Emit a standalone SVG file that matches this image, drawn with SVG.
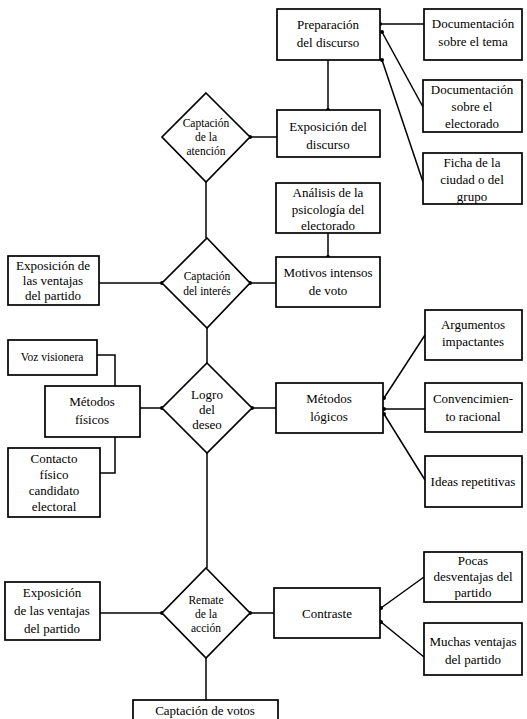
<svg xmlns="http://www.w3.org/2000/svg" width="527" height="719" viewBox="0 0 527 719" font-family="'Liberation Serif', 'DejaVu Serif', serif">
<defs>
<style>
.b{fill:#fff;stroke:#000;stroke-width:1.7}
.c{fill:none;stroke:#000;stroke-width:1.5}
text{font-family:'Liberation Serif','DejaVu Serif',serif;font-size:13px;fill:#000;text-anchor:middle}
.s{font-size:11.5px}
</style>
<marker id="dot" viewBox="0 0 6 6" refX="3" refY="3" markerWidth="4" markerHeight="4" markerUnits="userSpaceOnUse"><circle cx="3" cy="3" r="3" fill="#000"/></marker>
</defs>
<rect width="527" height="719" fill="#fff"/>
<g id="connectors">
<path class="c" d="M328 60V110" marker-end="url(#dot)"/>
<path class="c" d="M424 24H380" marker-end="url(#dot)"/>
<path class="c" d="M423 107L382 32" marker-end="url(#dot)"/>
<path class="c" d="M423 182L382 60" marker-end="url(#dot)"/>
<path class="c" d="M277 137H250" marker-end="url(#dot)"/>
<path class="c" d="M206 182V238"/>
<path class="c" d="M328 233V257" marker-end="url(#dot)"/>
<path class="c" d="M99 283H162" marker-end="url(#dot)"/>
<path class="c" d="M276 283H250" marker-end="url(#dot)"/>
<path class="c" d="M207 328V363"/>
<path class="c" d="M97 355H115V386"/>
<path class="c" d="M115 437V473H100"/>
<path class="c" d="M140 408H162" marker-end="url(#dot)"/>
<path class="c" d="M276 408H252" marker-end="url(#dot)"/>
<path class="c" d="M425 335L384 398" marker-end="url(#dot)"/>
<path class="c" d="M425 409H384" marker-end="url(#dot)"/>
<path class="c" d="M425 480L384 414" marker-end="url(#dot)"/>
<path class="c" d="M207 453V568"/>
<path class="c" d="M100 613H162" marker-end="url(#dot)"/>
<path class="c" d="M274 613H250" marker-end="url(#dot)"/>
<path class="c" d="M424 577L381 608" marker-end="url(#dot)"/>
<path class="c" d="M424 657L381 622" marker-end="url(#dot)"/>
<path class="c" d="M206 658V700"/>
</g>
<g id="preparacion"><rect class="b" x="277" y="9" width="103" height="51"/><text x="328" y="29">Preparación</text><text x="328" y="47">del discurso</text></g>
<g id="doc-tema"><rect class="b" x="424" y="9" width="98" height="51"/><text x="473" y="28">Documentación</text><text x="473" y="46">sobre el tema</text></g>
<g id="doc-electorado"><rect class="b" x="423" y="80" width="99" height="52"/><text x="472" y="94">Documentación</text><text x="472" y="111">sobre el</text><text x="472" y="128">electorado</text></g>
<g id="ficha"><rect class="b" x="423" y="153" width="99" height="51"/><text x="472" y="167">Ficha de la</text><text x="472" y="184">ciudad o del</text><text x="472" y="201">grupo</text></g>
<g id="exposicion-discurso"><rect class="b" x="277" y="110" width="103" height="47"/><text x="328" y="131">Exposición del</text><text x="328" y="149">discurso</text></g>
<g id="d-atencion"><polygon class="b" points="206,93 250,137 206,182 162,137"/><text class="s" x="206" y="127">Captación</text><text class="s" x="206" y="141">de la</text><text class="s" x="206" y="155">atención</text></g>
<g id="analisis"><rect class="b" x="276" y="183" width="104" height="50"/><text x="328" y="197">Análisis de la</text><text x="328" y="214">psicología del</text><text x="328" y="230">electorado</text></g>
<g id="motivos"><rect class="b" x="276" y="257" width="104" height="50"/><text x="328" y="277">Motivos intensos</text><text x="328" y="295">de voto</text></g>
<g id="exposicion-ventajas-1"><rect class="b" x="8" y="256" width="91" height="49"/><text x="53" y="270">Exposición de</text><text x="53" y="285">las ventajas</text><text x="53" y="300">del partido</text></g>
<g id="d-interes"><polygon class="b" points="207,238 250,283 207,328 162,283"/><text class="s" x="207" y="280">Captación</text><text class="s" x="207" y="295">del interés</text></g>
<g id="voz"><rect class="b" x="8" y="340" width="89" height="35"/><text class="s" x="52" y="361">Voz visionera</text></g>
<g id="metodos-fisicos"><rect class="b" x="45" y="386" width="95" height="51"/><text x="92" y="406">Métodos</text><text x="92" y="424">físicos</text></g>
<g id="contacto"><rect class="b" x="8" y="448" width="92" height="69"/><text x="54" y="463">Contacto</text><text x="54" y="479">físico</text><text x="54" y="495">candidato</text><text x="54" y="511">electoral</text></g>
<g id="d-deseo"><polygon class="b" points="207,363 252,408 207,453 162,408"/><text x="207" y="399">Logro</text><text x="207" y="414">del</text><text x="207" y="429">deseo</text></g>
<g id="metodos-logicos"><rect class="b" x="276" y="383" width="107" height="50"/><text x="329" y="403">Métodos</text><text x="329" y="421">lógicos</text></g>
<g id="argumentos"><rect class="b" x="425" y="310" width="97" height="50"/><text x="473" y="329">Argumentos</text><text x="473" y="346">impactantes</text></g>
<g id="convencimiento"><rect class="b" x="425" y="383" width="97" height="49"/><text x="473" y="403">Convencimien-</text><text x="473" y="421">to racional</text></g>
<g id="ideas"><rect class="b" x="425" y="456" width="97" height="51"/><text x="473" y="486">Ideas repetitivas</text></g>
<g id="d-accion"><polygon class="b" points="206,568 250,613 206,658 162,613"/><text class="s" x="206" y="604">Remate</text><text class="s" x="206" y="618">de la</text><text class="s" x="206" y="632">acción</text></g>
<g id="exposicion-ventajas-2"><rect class="b" x="5" y="582" width="95" height="58"/><text x="52" y="597">Exposición</text><text x="52" y="615">de las ventajas</text><text x="52" y="633">del partido</text></g>
<g id="contraste"><rect class="b" x="274" y="588" width="106" height="50"/><text x="327" y="618">Contraste</text></g>
<g id="pocas"><rect class="b" x="424" y="552" width="98" height="50"/><text x="473" y="565">Pocas</text><text x="473" y="581">desventajas del</text><text x="473" y="597">partido</text></g>
<g id="muchas"><rect class="b" x="424" y="623" width="98" height="52"/><text x="473" y="646">Muchas ventajas</text><text x="473" y="664">del partido</text></g>
<g id="votos"><rect class="b" x="133" y="700" width="145" height="25"/><text x="205" y="715">Captación de votos</text></g>
</svg>
